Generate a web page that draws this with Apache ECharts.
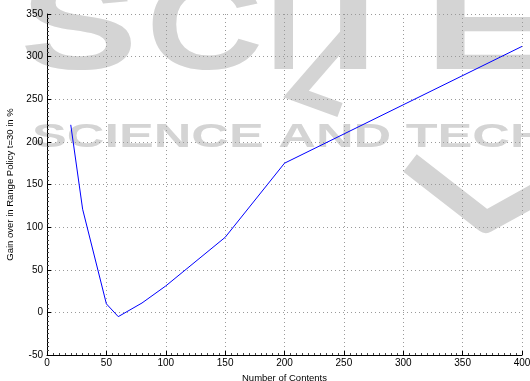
<!DOCTYPE html>
<html>
<head>
<meta charset="utf-8">
<script src="https://cdn.jsdelivr.net/npm/echarts@6/dist/echarts.min.js"></script>
<style>
  html, body { margin: 0; padding: 0; background: #fff; }
  #chart { width: 530px; height: 381px; }
</style>
</head>
<body>
<div id="chart"></div>
<script>
// Number of contents vs. gain over the range policy (t=30)
const contents = [20, 30, 50, 60, 80, 100, 150, 200, 400];
const gain = [220, 121, 10, -5, 11, 31, 88, 175, 312];

const xTicks = [0, 50, 100, 150, 200, 250, 300, 350, 400];
const yTicks = [-50, 0, 50, 100, 150, 200, 250, 300, 350];

// Publisher mark letters in the background
const markLetters = ['S', 'C', 'I', 'T', 'E'];
const markSubtitle = 'SCIENCE AND TECH';

const font = 'Liberation Sans, Arial, Helvetica, sans-serif';
const chart = echarts.init(document.getElementById('chart'), null, { renderer: 'canvas' });

const axisCommon = {
  type: 'value',
  interval: 50,
  axisLine: { show: true, onZero: false, lineStyle: { color: '#000', width: 1 } },
  axisTick: { show: true, inside: true, length: 4, lineStyle: { color: '#000' } },
  minorTick: { show: true, splitNumber: 10, length: 2, lineStyle: { color: '#444' } },
  axisLabel: { color: '#000', fontSize: 10, fontFamily: font },
  splitLine: { show: true, lineStyle: { color: '#9a9a9a', type: [1, 3], width: 1 } },
  nameTextStyle: { color: '#000', fontSize: 9.5, fontFamily: font }
};

const wmColor = '#d4d4d4';
const letterPlace = [
  { left: 20, sx: 1.38 },
  { left: 146, sx: 1.27 },
  { left: 266, sx: 1.0 },
  { left: 298, sx: 1.41 },
  { left: 424, sx: 1.5 }
];
const letterGraphics = markLetters.map((ch, i) => ({
  type: 'text', z: -10,
  x: letterPlace[i].left, y: -30,
  scaleX: letterPlace[i].sx,
  style: { text: ch, fill: wmColor, font: 'bold 128px Liberation Sans, Arial, sans-serif' }
}));

chart.setOption({
  animation: false,
  backgroundColor: '#fff',
  grid: { left: 47, right: 8, top: 14, bottom: 26, containLabel: false, outerBoundsMode: 'none' },
  graphic: letterGraphics.concat([
    {
      type: 'text', z: -10, x: 32, y: 121,
      scaleX: 1.58,
      style: { text: markSubtitle, fill: wmColor, font: 'bold 33px Liberation Sans, Arial, sans-serif' }
    },
    {
      type: 'polyline', z: -10,
      shape: { points: [[348, 34], [296, 94], [340, 110]] },
      style: { stroke: wmColor, lineWidth: 15, fill: null, lineJoin: 'miter' }
    },
    {
      type: 'polyline', z: -10,
      shape: { points: [[410, 163], [486, 222], [540, 192]] },
      style: { stroke: wmColor, lineWidth: 22, fill: null, lineJoin: 'round' }
    }
  ]),
  xAxis: Object.assign({}, axisCommon, {
    min: xTicks[0], max: xTicks[xTicks.length - 1],
    name: 'Number of Contents', nameLocation: 'middle', nameGap: 15,
    axisLabel: Object.assign({}, axisCommon.axisLabel, { margin: 3 })
  }),
  yAxis: Object.assign({}, axisCommon, {
    min: yTicks[0], max: yTicks[yTicks.length - 1],
    name: 'Gain over in Range Policy t=30 in %', nameLocation: 'middle', nameGap: 30,
    axisLabel: Object.assign({}, axisCommon.axisLabel, { margin: 4 })
  }),
  series: [{
    type: 'line',
    data: contents.map((c, i) => [c, gain[i]]),
    showSymbol: false,
    lineStyle: { color: '#0000ff', width: 1 },
    z: 5
  }]
});
</script>
</body>
</html>
